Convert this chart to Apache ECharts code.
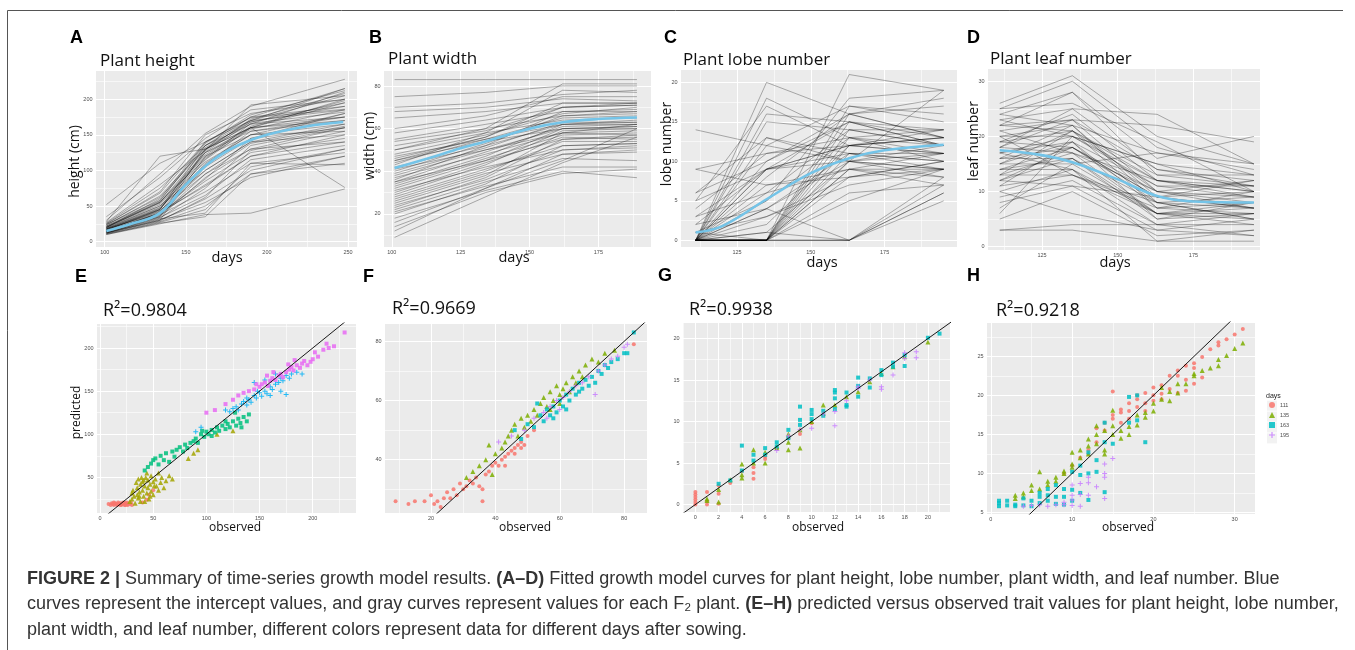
<!DOCTYPE html>
<html>
<head>
<meta charset="utf-8">
<script src="https://cdn.jsdelivr.net/npm/echarts@6/dist/echarts.min.js"></script>
<style>
    html, body { margin: 0; padding: 0; background: #fff; }
    #chart { width: 1355px; height: 650px; }
</style>
</head>
<body>
<div id="chart"></div>
<script>
// ---------- A: plant height ----------
const heightDays = [101, 134, 162, 190, 248];
const heightPlants = [
    [15, 35, 130, 165, 210], [12, 30, 120, 160, 200], [18, 45, 135, 170, 215], [10, 25, 38, 40, 74],
    [20, 60, 140, 175, 190], [14, 40, 110, 150, 180], [16, 45, 125, 155, 175], [22, 55, 130, 170, 205],
    [12, 35, 90, 130, 160], [25, 70, 150, 180, 200], [30, 95, 152, 190, 228], [52, 110, 140, 170, 185],
    [18, 40, 80, 120, 150], [13, 30, 60, 100, 130], [20, 50, 100, 140, 165], [15, 38, 70, 110, 125],
    [28, 120, 130, 160, 175], [11, 28, 50, 95, 110], [17, 42, 115, 160, 195], [19, 48, 128, 172, 208],
    [24, 58, 135, 165, 175], [14, 36, 105, 145, 160], [21, 52, 120, 150, 155], [13, 33, 75, 135, 160],
    [16, 44, 95, 130, 140], [26, 75, 135, 175, 215], [12, 31, 55, 90, 120], [18, 46, 118, 158, 185],
    [23, 64, 132, 168, 190], [15, 40, 85, 125, 145], [20, 55, 125, 160, 170], [35, 90, 145, 185, 200],
    [10, 27, 45, 105, 130], [17, 43, 100, 140, 150], [22, 57, 138, 178, 212], [14, 34, 65, 115, 135],
    [19, 50, 112, 150, 165], [27, 80, 128, 192, 205], [13, 32, 40, 110, 108], [16, 39, 88, 145, 180],
    [21, 54, 122, 162, 198], [18, 47, 108, 155, 170], [12, 29, 62, 128, 155], [24, 62, 130, 160, 76],
    [15, 37, 95, 138, 162], [20, 56, 116, 166, 182], [11, 26, 35, 95, 120], [17, 45, 126, 168, 195],
    [25, 68, 140, 174, 186], [14, 41, 78, 120, 140]
];
const heightFitDays = [101, 115, 134, 150, 167, 183, 200, 225, 247];
const heightFit = [15, 24, 40, 80, 115, 136, 150, 162, 168];

// ---------- B: plant width ----------
const widthDays = [101, 134, 162, 189];
const widthPlants = [
    [83, 83, 83, 83], [75, 77, 80, 80], [70, 72, 76, 78], [68, 70, 74, 73], [65, 68, 72, 72], [60, 66, 75, 75],
    [58, 64, 70, 71], [55, 62, 68, 68], [54, 60, 66, 67], [52, 59, 70, 72], [50, 58, 64, 65], [48, 57, 67, 70],
    [47, 55, 62, 63], [46, 56, 70, 71], [45, 54, 60, 61], [44, 55, 65, 66], [42, 52, 62, 64], [41, 50, 58, 57],
    [40, 53, 66, 68], [38, 50, 60, 60], [37, 48, 58, 59], [36, 52, 68, 69], [35, 45, 55, 56], [34, 47, 62, 62],
    [33, 46, 57, 58], [32, 45, 60, 61], [31, 42, 50, 52], [30, 44, 56, 55], [29, 43, 59, 60], [28, 41, 52, 53],
    [27, 40, 54, 54], [26, 39, 48, 49], [25, 38, 58, 62], [24, 36, 50, 51], [23, 37, 55, 57], [22, 35, 46, 45],
    [21, 33, 42, 42], [20, 34, 52, 53], [18, 31, 40, 37], [16, 32, 48, 50], [14, 30, 39, 41], [12, 32, 45, 60],
    [9, 28, 44, 56], [50, 60, 81, 81], [45, 56, 72, 72], [43, 58, 78, 77], [39, 51, 63, 63], [35, 49, 61, 62]
];
const widthFitDays = [101, 113, 125, 134, 150, 162, 175, 189];
const widthFit = [41.5, 46, 50.8, 54, 60, 63, 64.5, 65.2];

// ---------- C: lobe number ----------
const lobeDays = [111, 135, 163, 195];
const lobePlants = [
    [0, 0, 0, 6], [0, 0, 0, 7], [0, 0, 5, 9], [0, 0, 8, 10], [0, 0, 10, 11], [0, 0, 12, 13], [0, 0, 13, 12],
    [0, 0, 14, 14], [0, 0, 16, 13], [0, 0, 17, 15], [0, 0, 11, 9], [0, 0, 9, 8], [0, 0, 15, 12], [0, 0, 6, 7],
    [0, 1, 10, 12], [0, 2, 12, 14], [0, 3, 8, 10], [0, 4, 11, 11], [0, 5, 13, 10], [0, 6, 14, 12], [0, 7, 9, 9],
    [0, 8, 16, 13], [0, 9, 12, 11], [0, 9, 10, 8], [0, 10, 15, 14], [0, 12, 17, 16], [0, 13, 11, 10], [0, 15, 14, 12],
    [0, 18, 13, 11], [0, 20, 16, 17], [1, 3, 7, 9], [1, 5, 18, 19], [2, 9, 12, 13], [2, 4, 10, 9], [3, 9, 15, 13],
    [3, 6, 9, 7], [4, 11, 13, 14], [5, 9, 11, 10], [5, 17, 12, 11], [6, 13, 10, 9], [6, 10, 16, 18], [9, 7, 8, 9],
    [9, 11, 12, 13], [14, 12, 10, 19], [0, 0, 21, 19], [0, 1, 0, 5], [0, 0, 0, 8], [0, 16, 15, 12], [1, 0, 9, 11],
    [0, 4, 0, 6]
];
const lobeFitDays = [111, 120, 135, 150, 163, 175, 195];
const lobeFit = [1, 1.8, 5.2, 8.5, 10.4, 11.4, 12.1];

// ---------- D: leaf number ----------
const leafDays = [111, 135, 163, 195];
const leafPlants = [
    [26, 31, 20, 15], [25, 30, 18, 13], [24, 28, 16, 20], [23, 25, 24, 15], [22, 23, 22, 19], [22, 21, 12, 10],
    [21, 23, 10, 9], [20, 22, 8, 7], [20, 20, 12, 11], [19, 21, 7, 8], [19, 18, 9, 10], [18, 23, 14, 12],
    [18, 17, 6, 7], [17, 20, 11, 9], [17, 19, 5, 6], [16, 18, 10, 12], [16, 16, 8, 5], [15, 21, 13, 13],
    [15, 15, 6, 8], [14, 18, 9, 7], [14, 14, 4, 4], [13, 17, 12, 10], [13, 13, 7, 6], [12, 16, 5, 8],
    [12, 11, 3, 5], [11, 19, 11, 11], [11, 13, 8, 9], [10, 14, 6, 5], [9, 12, 4, 6], [8, 11, 9, 12],
    [7, 15, 17, 15], [6, 20, 15, 13], [5, 10, 2, 3], [3, 4, 4, 2], [3, 3, 1, 1], [25, 26, 19, 10],
    [24, 22, 17, 14], [23, 20, 15, 10], [21, 17, 10, 7], [20, 13, 6, 4], [19, 24, 12, 9], [18, 25, 14, 11],
    [17, 14, 1, 3], [16, 22, 9, 7], [15, 19, 7, 10], [14, 16, 6, 6], [13, 21, 10, 8], [12, 18, 8, 5],
    [10, 6, 3, 2], [22, 28, 13, 11]
];
const leafFitDays = [111, 125, 135, 150, 163, 175, 195];
const leafFit = [17.5, 16.6, 15.3, 12.2, 9.2, 8.2, 8.0];

// ---------- E: height, [observed, predicted] ----------
const heightPts1 = [[8, 19], [10, 18], [11, 20], [12, 19], [13, 18], [14, 20], [15, 19], [16, 18], [17, 21], [18, 19],
    [19, 20], [20, 18], [21, 19], [22, 21], [23, 18], [24, 20], [25, 19], [26, 18], [27, 20], [28, 19], [30, 18],
    [13, 21], [17, 19], [21, 20], [25, 21], [29, 21], [19, 18], [24, 18], [46, 30], [50, 35], [44, 24], [40, 21]];
const heightPts2 = [[28, 22], [30, 25], [32, 28], [33, 20], [35, 30], [35, 38], [36, 26], [37, 33], [38, 42], [38, 22],
    [40, 35], [40, 45], [41, 28], [42, 40], [43, 50], [44, 32], [45, 38], [45, 47], [46, 25], [47, 42], [48, 52],
    [48, 34], [50, 45], [50, 30], [52, 48], [53, 40], [55, 55], [55, 35], [57, 44], [58, 50], [60, 38], [62, 46],
    [65, 52], [68, 48], [30, 32], [34, 44], [39, 50], [42, 22], [36, 48], [44, 55], [31, 35], [47, 28], [51, 40],
    [41, 47], [37, 28], [83, 72], [88, 78], [92, 82], [110, 100], [125, 104]];
const heightPts3 = [[42, 58], [45, 62], [48, 66], [50, 70], [52, 72], [55, 65], [57, 75], [60, 70], [62, 78], [65, 68],
    [68, 80], [70, 74], [72, 82], [75, 85], [78, 80], [80, 88], [82, 84], [85, 90], [88, 92], [90, 95], [92, 90],
    [95, 100], [98, 97], [100, 103], [102, 100], [105, 105], [108, 102], [110, 108], [112, 104], [115, 110],
    [118, 106], [120, 112], [122, 108], [125, 115], [128, 110], [130, 118], [132, 113], [135, 120], [138, 115],
    [140, 123], [127, 125], [118, 115], [105, 98], [96, 104], [133, 108]];
const heightPts4 = [[90, 103], [95, 108], [118, 128], [122, 126], [125, 130], [128, 132], [130, 128], [133, 135],
    [135, 138], [138, 134], [140, 140], [142, 137], [145, 145], [147, 142], [150, 148], [152, 144], [155, 150],
    [157, 147], [160, 155], [162, 152], [165, 158], [168, 160], [170, 165], [172, 162], [175, 168], [178, 165],
    [180, 170], [185, 172], [190, 170], [175, 146], [170, 150], [160, 145], [148, 150], [138, 142], [145, 160],
    [155, 163], [165, 170]];
const heightPts5 = [[100, 125], [108, 128], [118, 135], [125, 140], [130, 145], [135, 148], [140, 150], [145, 152],
    [150, 155], [152, 158], [155, 160], [158, 156], [160, 162], [162, 165], [165, 163], [168, 168], [170, 170],
    [172, 166], [175, 172], [178, 175], [180, 178], [182, 174], [185, 180], [188, 177], [190, 182], [192, 185],
    [195, 180], [198, 184], [200, 187], [202, 195], [205, 190], [210, 198], [213, 205], [215, 200], [220, 202],
    [230, 218], [163, 172], [157, 168], [147, 158], [177, 181], [183, 186]];
const heightDiag = [[0, 0], [240, 240]];

// ---------- F: width ----------
const widthPts1 = [[9, 26], [13, 25], [15, 26], [18, 26], [20, 28], [21, 25], [22, 26], [23, 24], [24, 27], [25, 29],
    [26, 27], [27, 30], [28, 28], [29, 32], [30, 30], [31, 31], [32, 33], [33, 32], [34, 34], [35, 31], [36, 26],
    [37, 35], [38, 36], [39, 38], [40, 39], [41, 38], [42, 40], [43, 41], [44, 42], [45, 43], [46, 44], [47, 45],
    [48, 46], [49, 45], [50, 48], [52, 50], [43, 38], [46, 42], [48, 44], [36, 30], [83, 79]];
const widthPts2 = [[31, 34], [33, 36], [35, 38], [37, 40], [38, 45], [39, 35], [40, 42], [42, 44], [43, 46], [45, 50],
    [46, 52], [47, 48], [48, 54], [50, 55], [51, 53], [52, 57], [53, 55], [54, 59], [55, 61], [56, 58], [57, 63],
    [58, 60], [59, 65], [60, 62], [61, 64], [62, 66], [63, 63], [64, 68], [65, 66], [66, 70], [67, 68], [68, 72],
    [70, 74], [72, 73], [74, 76], [77, 77], [44, 48], [49, 51], [57, 57], [60, 59]];
const widthPts3 = [[46, 50], [48, 47], [50, 52], [52, 51], [54, 55], [55, 53], [56, 57], [57, 55], [58, 58], [59, 56],
    [60, 60], [61, 58], [62, 62], [63, 60], [64, 64], [65, 62], [66, 66], [67, 64], [68, 67], [69, 65], [70, 68],
    [71, 66], [72, 70], [73, 69], [74, 72], [75, 71], [76, 73], [78, 74], [80, 76], [81, 76], [83, 83], [53, 59],
    [58, 54], [62, 57], [66, 63]];
const widthPts4 = [[41, 46], [45, 48], [49, 50], [52, 54], [55, 56], [57, 58], [59, 60], [61, 61], [63, 63], [65, 65],
    [67, 66], [69, 68], [71, 62], [72, 70], [74, 72], [76, 74], [78, 75], [80, 78], [81, 79], [56, 54], [60, 57]];
const widthDiag = [[5, 5], [90, 90]];

// ---------- G: lobe number ----------
const lobePts1 = [[0, 0], [0, 0.3], [0, 0.6], [0, 0.9], [0, 1.2], [0, 1.5], [1, 0], [1, 0.4], [1, 1.5], [2, 0.1],
    [2, 1.3], [2, 2.3], [3, 2.6], [4, 4], [5, 3.1], [5, 3.8], [5, 4.5], [6, 5.5], [6, 5.8], [9, 8.5], [8, 8],
    [10, 9.8], [7, 6.8]];
const lobePts2 = [[1, 0.5], [1, 0.7], [2, 0.3], [2, 1.8], [3, 3], [4, 3.2], [4, 3.6], [4, 4.9], [5, 6.6], [5, 5],
    [6, 5], [6, 6.3], [7, 7], [7, 6.8], [8, 6.6], [8, 7.5], [8, 8.5], [9, 6.8], [9, 9], [10, 10], [11, 11], [11, 12],
    [12, 12], [13, 13], [14, 13.6], [15, 14.8], [16, 15.8], [17, 16.6], [18, 17.8], [20, 19.6]];
const lobePts3 = [[2, 2.5], [3, 2.9], [4, 7.1], [4, 4.1], [5, 5.3], [5, 6], [6, 6.8], [6, 6], [7, 7.5], [7, 7],
    [8, 9], [8, 8], [9, 11.8], [9, 10.2], [9, 9.6], [10, 11.4], [10, 10.9], [10, 10.3], [11, 11.3], [11, 10.7],
    [12, 13.8], [12, 13.5], [12, 12.8], [12, 11.5], [13, 13.5], [13, 12], [13, 11.8], [14, 15.3], [14, 14.3],
    [14, 13], [15, 15.2], [15, 14.1], [16, 16.2], [16, 15.6], [17, 17.1], [17, 16.6], [18, 16.7], [18, 18],
    [20, 20.1], [21, 20.6]];
const lobePts4 = [[7, 6.5], [8, 8.3], [9, 9], [10, 9.2], [11, 10.9], [12, 9.5], [12, 11.2], [13, 12.5], [14, 14],
    [14, 14.2], [15, 15], [16, 14.2], [16, 13.9], [17, 15.6], [18, 18.3], [18, 17.6], [19, 18.4], [19, 17.7]];
const lobeDiag = [[-2, -2], [23, 23]];

// ---------- H: leaf number ----------
const leafPts1 = [[9, 10], [10, 11], [11, 12], [12, 13], [12, 12.5], [13, 14], [13, 15.8], [14, 15.5], [14, 16.5],
    [15, 17], [15, 17.5], [15, 20.5], [16, 17.8], [16, 18.2], [16, 16.5], [17, 18], [17, 19], [17, 17], [18, 18.5],
    [18, 19.5], [18, 20], [19, 19], [19, 20.3], [19, 18], [20, 20], [20, 21], [20, 19.3], [21, 21.3], [21, 20.2],
    [21, 19.5], [22, 22.5], [22, 20.8], [23, 23.2], [23, 22.5], [23, 20.3], [24, 23.8], [24, 22], [24, 20.6],
    [25, 24.1], [25, 23.5], [25, 21.5], [26, 24.9], [26, 22.3], [27, 25.9], [28, 26.4], [28, 26.8], [29, 27.2],
    [30, 27.8], [31, 28.5]];
const leafPts2 = [[3, 7.2], [3, 6.8], [4, 7.5], [4, 7], [5, 8.5], [5, 7.8], [6, 10.2], [6, 8], [7, 9], [7, 8.5],
    [8, 9.5], [8, 9], [9, 10.3], [9, 10], [10, 12.7], [10, 11.2], [10, 10.8], [11, 13], [11, 12], [12, 14.4],
    [12, 13.5], [12, 12.5], [13, 16.1], [13, 15], [13, 13.8], [14, 15.5], [14, 13], [14, 12.5], [15, 18.1],
    [15, 16.1], [15, 15], [16, 15.5], [16, 14.5], [17, 16], [17, 15], [18, 17.5], [18, 16.2], [19, 17.8],
    [19, 17.2], [20, 18], [20, 19], [21, 19.5], [21, 21], [22, 19.3], [22, 20.5], [23, 21.5], [23, 20.3],
    [24, 21.5], [25, 22.8], [25, 22.5], [26, 23.2], [27, 23.5], [28, 23.8], [28, 24.6], [29, 25.1], [30, 26],
    [31, 26.7]];
const leafPts3 = [[1, 6.5], [1, 5.8], [1, 6.2], [2, 6.5], [2, 5.9], [3, 6], [3, 5.8], [4, 6.8], [4, 5.9], [5, 5.8],
    [5, 6.5], [6, 7.5], [6, 7], [6, 6.2], [7, 8], [7, 7.2], [7, 6.5], [8, 8.5], [8, 7], [8, 6.1], [9, 8], [9, 7],
    [9, 6], [10, 10.2], [10, 7.9], [10, 6.5], [11, 9.8], [11, 11], [11, 7.5], [12, 12.7], [12, 10], [12, 6.6],
    [13, 11.7], [13, 10.2], [14, 16.5], [14, 14], [14, 7.6], [15, 13.8], [17, 19.8], [17, 16.5], [18, 20],
    [18, 16.8], [19, 14]];
const leafPts4 = [[4, 5.8], [5, 5.9], [6, 6], [7, 5.8], [8, 6], [9, 6], [9, 6.3], [10, 8.5], [10, 7.2], [10, 6.6],
    [10, 5.9], [11, 8.7], [11, 7.3], [11, 5.8], [12, 9.5], [12, 8.8], [12, 7.2], [13, 8.3], [14, 11.2], [14, 10],
    [14, 9.5], [14, 6.8], [15, 11.9]];
const leafDiag = [[0, 0], [33, 33]];

const legendDays = ['111', '135', '163', '195'];

// ---------- layout / style ----------
const FONT = '"Open Sans", "Noto Sans", sans-serif';
const ARIAL = '"Liberation Sans", Arial, sans-serif';
const PLUS = 'path://M4,0h2v4h4v2h-4v4h-2v-4h-4v-2h4z';
const hue5 = ['#F8766D', '#A3A500', '#00BF7D', '#00B0F6', '#E76BF3'];
const hue4 = ['#F8766D', '#7CAE00', '#00BFC4', '#C77CFF'];

const grids = [];
const xAxes = [];
const yAxes = [];
const series = [];
const graphics = [];

function minorAxis(gi, r, pos) {
    return {
        type: 'value', gridIndex: gi, position: pos, offset: 0, min: r[0], max: r[1],
        minInterval: r[2] / 2, maxInterval: r[2] / 2, silent: true,
        axisLine: { show: false }, axisTick: { show: false }, axisLabel: { show: false },
        splitLine: { show: true, lineStyle: { color: '#fff', width: 0.6 } }
    };
}

function majorAxis(gi, r, pos) {
    const step = r[2];
    return {
        type: 'value', gridIndex: gi, position: pos, offset: 0, min: r[0], max: r[1],
        minInterval: step, maxInterval: step, silent: true,
        axisLine: { show: false }, axisTick: { show: false },
        axisLabel: {
            show: true, fontSize: 5.5, color: '#4d4d4d', margin: 2.5, fontFamily: ARIAL,
            showMinLabel: true, showMaxLabel: true,
            formatter: (v) => (Math.abs(v / step - Math.round(v / step)) < 1e-6 ? String(Math.round(v * 100) / 100) : '')
        },
        splitLine: { show: true, lineStyle: { color: '#fff', width: 1 } }
    };
}

// 一个面板：灰底 + 主/次网格线
function addPanel(box, xr, yr) {
    const gi = grids.length;
    grids.push({
        left: box[0], top: box[1], width: box[2], height: box[3],
        show: true, backgroundColor: '#EBEBEB', borderWidth: 0
    });
    const xi = xAxes.length;
    const yi = yAxes.length;
    xAxes.push(minorAxis(gi, xr, 'bottom'), majorAxis(gi, xr, 'bottom'));
    yAxes.push(minorAxis(gi, yr, 'left'), majorAxis(gi, yr, 'left'));
    return { xAxisIndex: xi + 1, yAxisIndex: yi + 1 };
}

function addLines(ax, days, plants, fitDays, fit) {
    plants.forEach((v) => {
        series.push({
            type: 'line', xAxisIndex: ax.xAxisIndex, yAxisIndex: ax.yAxisIndex,
            data: days.map((d, i) => [d, v[i]]), symbol: 'none', silent: true, z: 2,
            lineStyle: { color: 'rgba(0,0,0,0.38)', width: 0.8 }
        });
    });
    series.push({
        type: 'line', xAxisIndex: ax.xAxisIndex, yAxisIndex: ax.yAxisIndex,
        data: fitDays.map((d, i) => [d, fit[i]]), symbol: 'none', silent: true, smooth: 0.4, z: 3,
        lineStyle: { color: '#74C4E8', width: 2.6 }
    });
}

function addScatter(ax, name, pts, color, symbol, size) {
    series.push({
        type: 'scatter', name, xAxisIndex: ax.xAxisIndex, yAxisIndex: ax.yAxisIndex,
        data: pts, symbol, symbolSize: size, silent: true, z: 3,
        itemStyle: { color, opacity: 0.85 }
    });
}

function addDiag(ax, pts) {
    series.push({
        type: 'line', xAxisIndex: ax.xAxisIndex, yAxisIndex: ax.yAxisIndex,
        data: pts, symbol: 'none', silent: true, z: 4, clip: true,
        lineStyle: { color: '#000', width: 0.9 }
    });
}

function text(str, x, y, size, opts) {
    graphics.push(Object.assign({
        type: 'text', x, y, silent: true,
        style: Object.assign({
            text: str, fontSize: size, fontFamily: FONT, fill: '#111',
            align: 'left', verticalAlign: 'middle'
        }, (opts && opts.style) || {})
    }, (opts && opts.el) || {}));
}

// ---------- top row ----------
const axA = addPanel([95, 70, 262, 177], [94, 255.5, 50], [-7.5, 241, 50]);
addLines(axA, heightDays, heightPlants, heightFitDays, heightFit);
const axB = addPanel([383, 70, 268, 177], [96.8, 194.1, 25], [4.5, 87.5, 20]);
addLines(axB, widthDays, widthPlants, widthFitDays, widthFit);
const axC = addPanel([680, 69, 277, 178], [105.7, 199.5, 25], [-0.85, 21.7, 5]);
addLines(axC, lobeDays, lobePlants, lobeFitDays, lobeFit);
const axD = addPanel([987, 68, 273, 182], [106.8, 197, 25], [-0.6, 32.4, 10]);
addLines(axD, leafDays, leafPlants, leafFitDays, leafFit);

// ---------- bottom row ----------
const axE = addPanel([96, 323, 260, 190], [-3.8, 240.7, 50], [8.7, 229, 50]);
[heightPts1, heightPts2, heightPts3, heightPts4, heightPts5].forEach((pts, i) => {
    const sym = ['circle', 'triangle', 'rect', PLUS, 'rect'][i];
    addScatter(axE, 'h' + i, pts, hue5[i], sym, [4, 5, 4, 5, 4][i]);
});
addDiag(axE, heightDiag);

const sym4 = ['circle', 'triangle', 'rect', PLUS];
const size4 = [4, 5, 4, 5];
const axF = addPanel([384, 323, 263, 190], [5.4, 87.1, 20], [22, 86.2, 20]);
[widthPts1, widthPts2, widthPts3, widthPts4].forEach((pts, i) => addScatter(axF, legendDays[i], pts, hue4[i], sym4[i], size4[i]));
addDiag(axF, widthDiag);

const axG = addPanel([682, 322, 268, 190], [-1.15, 21.9, 2], [-0.9, 22, 5]);
[lobePts1, lobePts2, lobePts3, lobePts4].forEach((pts, i) => addScatter(axG, legendDays[i], pts, hue4[i], sym4[i], size4[i]));
addDiag(axG, lobeDiag);

const axH = addPanel([986, 322, 269, 192], [-0.6, 32.5, 10], [4.8, 29.4, 5]);
[leafPts1, leafPts2, leafPts3, leafPts4].forEach((pts, i) => addScatter(axH, legendDays[i], pts, hue4[i], sym4[i], size4[i]));
addDiag(axH, leafDiag);

// ---------- texts ----------
const bold = { style: { fontFamily: ARIAL, fontWeight: 'bold', fill: '#000' } };
[['A', 70, 38], ['B', 369, 38], ['C', 664, 38], ['D', 967, 38],
 ['E', 75, 277.5], ['F', 363, 277.5], ['G', 658, 276], ['H', 967, 276]].forEach((t) => text(t[0], t[1], t[2], 18, bold));

[['Plant height', 100, 61.5], ['Plant width', 388, 59], ['Plant lobe number', 683, 60], ['Plant leaf number', 990, 59]]
    .forEach((t) => text(t[0], t[1], t[2], 17));
[['R²=0.9804', 103, 311], ['R²=0.9669', 392, 309], ['R²=0.9938', 689, 310], ['R²=0.9218', 996, 310.5]]
    .forEach((t) => text(t[0], t[1], t[2], 18));

const center = { style: { align: 'center' } };
[['days', 227, 257.5], ['days', 514, 257.5], ['days', 822, 263], ['days', 1115, 263]]
    .forEach((t) => text(t[0], t[1], t[2], 14.5, center));
[['observed', 235, 528], ['observed', 525, 528], ['observed', 818, 528], ['observed', 1128, 528]]
    .forEach((t) => text(t[0], t[1], t[2], 12, center));
[['height (cm)', 75, 161.5, 14], ['width (cm)', 370, 146, 14], ['lobe number', 667, 144, 14],
 ['leaf number', 974, 141, 14], ['predicted', 76.5, 412.5, 12]]
    .forEach((t) => text(t[0], t[1], t[2], t[3], { style: { align: 'center' }, el: { rotation: Math.PI / 2 } }));

// legend keys of panel H
text('days', 1266, 396, 7, { style: { fontFamily: ARIAL, fill: '#222' } });
[405.7, 416.6, 427.5, 438.4].forEach((y) => {
    graphics.push({ type: 'rect', silent: true, z: -1, shape: { x: 1267, y: y - 5, width: 10, height: 10 }, style: { fill: '#F2F2F2' } });
});

// caption
const capStyle = { fontFamily: ARIAL, fill: '#333', fontWeight: 'normal' };
const capRich = { b: { fontFamily: ARIAL, fontWeight: 'bold', fill: '#333', fontSize: 18 } };
[
    '{b|FIGURE 2 |} Summary of time-series growth model results. {b|(A–D)} Fitted growth model curves for plant height, lobe number, plant width, and leaf number. Blue',
    'curves represent the intercept values, and gray curves represent values for each F₂ plant. {b|(E–H)} predicted versus observed trait values for plant height, lobe number,',
    'plant width, and leaf number, different colors represent data for different days after sowing.'
].forEach((s, i) => text(s, 27, 579 + i * 25.5, 18, { style: Object.assign({ rich: capRich }, capStyle) }));

// frame
graphics.push({ type: 'line', silent: true, shape: { x1: 7.5, y1: 10.5, x2: 1343, y2: 10.5 }, style: { stroke: '#555', lineWidth: 1 } });
graphics.push({ type: 'line', silent: true, shape: { x1: 7.5, y1: 10.5, x2: 7.5, y2: 650 }, style: { stroke: '#555', lineWidth: 1 } });

const chart = echarts.init(document.getElementById('chart'));
chart.setOption({
    animation: false,
    backgroundColor: '#fff',
    grid: grids,
    xAxis: xAxes,
    yAxis: yAxes,
    legend: {
        data: legendDays, orient: 'vertical', left: 1269, top: 402,
        itemWidth: 6, itemHeight: 6, itemGap: 4, selectedMode: false, padding: 0,
        textStyle: { fontSize: 5.5, color: '#4d4d4d', fontFamily: ARIAL }
    },
    graphic: graphics,
    series: series
});
window.addEventListener('resize', () => chart.resize());
</script>
</body>
</html>
